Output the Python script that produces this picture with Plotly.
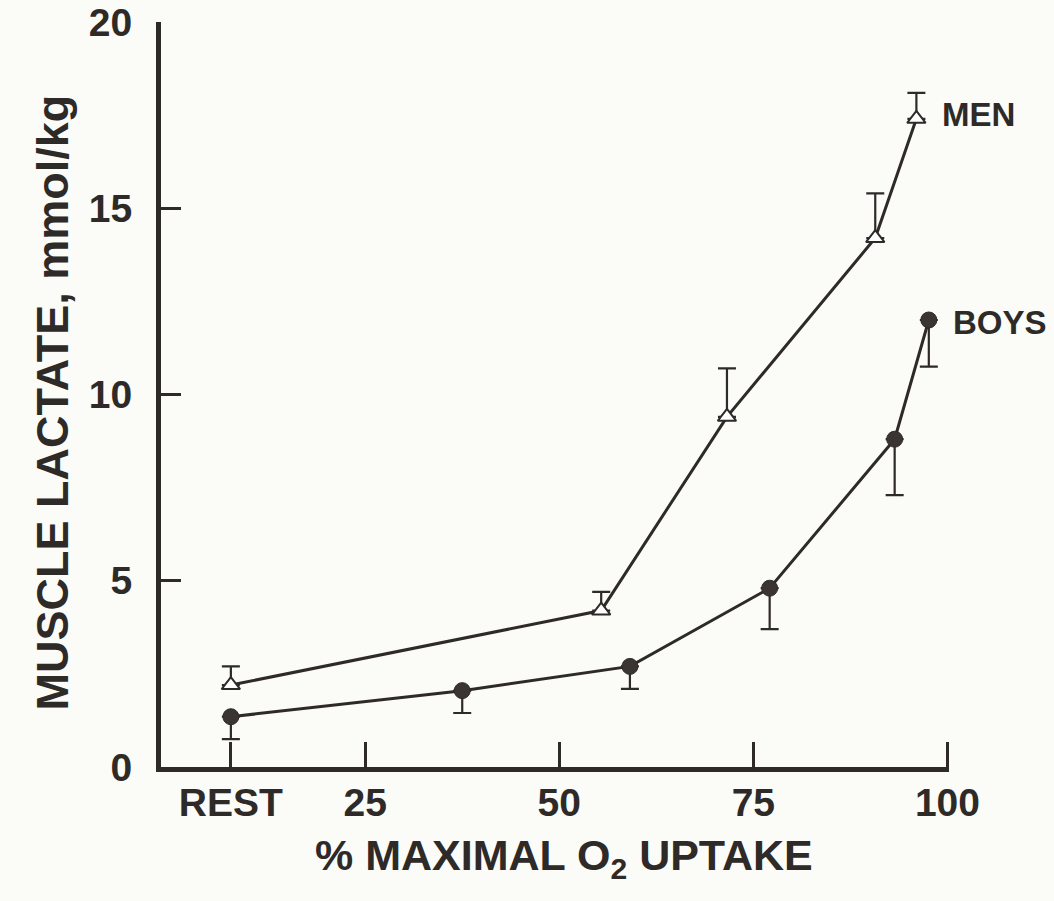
import plotly.graph_objects as go

# Data
x_ticks = [7.7, 25, 50, 75, 100]
x_tick_labels = ["REST", "25", "50", "75", "100"]
y_ticks = [0, 5, 10, 15, 20]

men_x = [7.7, 55.4, 71.6, 90.7, 96.0]
men_y = [2.2, 4.2, 9.4, 14.2, 17.4]
men_err_up = [0.5, 0.5, 1.3, 1.2, 0.7]

boys_x = [7.7, 37.5, 59.1, 77.1, 93.2, 97.6]
boys_y = [1.35, 2.05, 2.7, 4.8, 8.8, 12.0]
boys_err_down = [0.6, 0.6, 0.6, 1.1, 1.5, 1.25]

INK = "#2e2a28"
FONT = "Liberation Sans, Arial, sans-serif"

fig = go.Figure()
fig.add_trace(go.Scatter(
    x=men_x, y=men_y, mode="lines+markers", name="MEN",
    line=dict(color=INK, width=3),
    marker=dict(symbol="triangle-up", size=16, color="white", line=dict(color=INK, width=2)),
    error_y=dict(type="data", symmetric=False, array=men_err_up, arrayminus=[0]*len(men_y),
                 color=INK, thickness=2.2, width=9),
))
fig.add_trace(go.Scatter(
    x=boys_x, y=boys_y, mode="lines+markers", name="BOYS",
    line=dict(color=INK, width=3),
    marker=dict(symbol="circle", size=16, color="#3a3533", line=dict(color=INK, width=1)),
    error_y=dict(type="data", symmetric=False, array=[0]*len(boys_y), arrayminus=boys_err_down,
                 color=INK, thickness=2.2, width=9),
))

fig.add_annotation(x=men_x[-1], y=men_y[-1], text="MEN", showarrow=False,
                   xanchor="left", yanchor="middle", xshift=24, yshift=4,
                   font=dict(family=FONT, size=33, color=INK, weight="bold"))
fig.add_annotation(x=boys_x[-1], y=boys_y[-1], text="BOYS", showarrow=False,
                   xanchor="left", yanchor="middle", xshift=22, yshift=-2,
                   font=dict(family=FONT, size=33, color=INK, weight="bold"))

# axis titles as annotations for precise placement
fig.add_annotation(xref="paper", yref="paper", x=0, y=0.5, xanchor="center", yanchor="middle",
                   xshift=-109, yshift=-8, textangle=-90, showarrow=False,
                   text="MUSCLE LACTATE, mmol/kg",
                   font=dict(family=FONT, size=45, color=INK, weight="bold"))
fig.add_annotation(xref="paper", yref="paper", x=0.5, y=0, xanchor="center", yanchor="middle",
                   xshift=9, yshift=-91, showarrow=False,
                   text="% MAXIMAL O<sub>2</sub> UPTAKE",
                   font=dict(family=FONT, size=43, color=INK, weight="bold"))

fig.update_layout(
    width=1054, height=901,
    margin=dict(l=161, r=105, t=22, b=134),
    paper_bgcolor="#fbfbf8", plot_bgcolor="#fbfbf8",
    showlegend=False,
    font=dict(family=FONT, color=INK),
)
fig.update_xaxes(
    range=[-1.3, 100.2], tickvals=x_ticks, ticktext=x_tick_labels,
    showgrid=False, zeroline=False, automargin=False,
    showline=True, linecolor=INK, linewidth=5,
    ticks="inside", ticklen=25, tickwidth=2.5, tickcolor=INK,
    tickfont=dict(family=FONT, size=39, color=INK, weight="bold"),
    ticklabelstandoff=-3, ticklabeloverflow="allow",
)
fig.update_yaxes(
    range=[0, 20], tickvals=y_ticks,
    showgrid=False, zeroline=False, automargin=False,
    showline=True, linecolor=INK, linewidth=5,
    ticks="inside", ticklen=20, tickwidth=2.5, tickcolor=INK,
    tickfont=dict(family=FONT, size=39, color=INK, weight="bold"),
    ticklabelstandoff=16, ticklabeloverflow="allow",
)

fig.write_html("out.html")
